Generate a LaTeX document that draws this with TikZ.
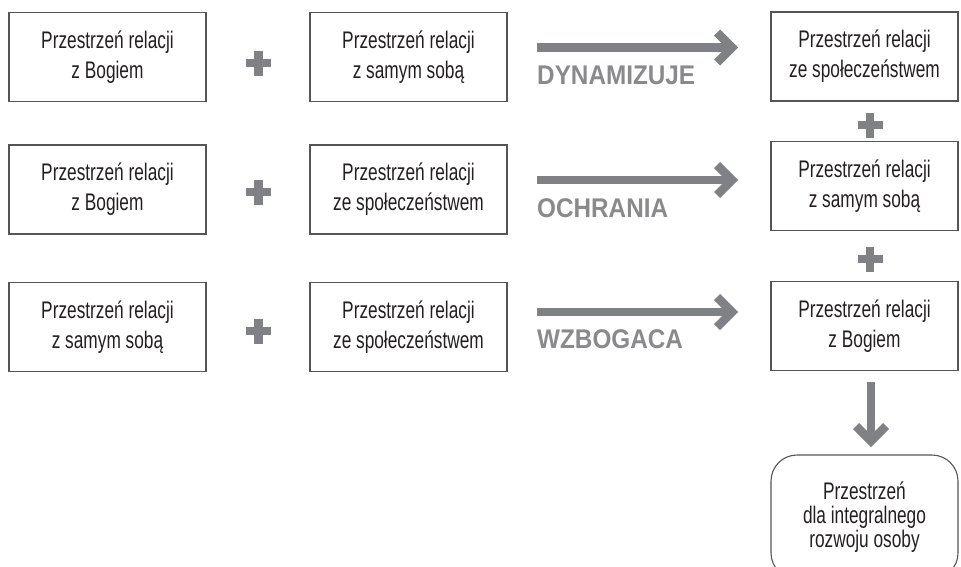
\documentclass[tikz,border=0pt]{standalone}
\usepackage{fontspec}
\setmainfont{Liberation Sans}[FakeStretch=0.72]
\newfontfamily\lblfont{Liberation Sans}[FakeStretch=0.9]
\definecolor{txt}{HTML}{231F20}
\definecolor{frame}{HTML}{555555}
\definecolor{arr}{HTML}{808184}
\definecolor{lbl}{HTML}{8A8A8D}
\begin{document}
\begin{tikzpicture}[x=1pt,y=-1pt,
  box/.style={draw=frame, line width=1.1pt, minimum width=197pt, minimum height=89pt,
    inner sep=0pt, align=center, text=txt, font=\fontsize{24}{30}\selectfont},
  rbox/.style={box, minimum width=187pt},
  endbox/.style={box, minimum width=187pt, minimum height=124pt, rounded corners=26pt,
    font=\fontsize{24}{24}\selectfont},
  verb/.style={anchor=west, text=lbl, inner sep=0pt,
    font=\lblfont\bfseries\fontsize{27}{27}\selectfont},
  shaft/.style={draw=arr, line width=8.5pt},
  chev/.style={draw=arr, line width=8.5pt, line join=miter},
  plussign/.pic={\fill[arr] (-12.5,-4.25) rectangle (12.5,4.25);
                 \fill[arr] (-4.25,-12.5) rectangle (4.25,12.5);}
]
\useasboundingbox (0,0) rectangle (961,566);

% row 1
\node[box] (a1) at (107.5,57) {Przestrzeń relacji\\z Bogiem};
\node[box] (b1) at (408.5,57) {Przestrzeń relacji\\z samym sobą};
\pic at (258.5,63) {plussign};
\coordinate (s1) at (537,47.5);
\coordinate (e1) at (727,47.5);
\coordinate (t1) at (732,47.5);
\draw[shaft] (s1) -- (e1);
\draw[chev] ([shift={(-15,-15)}]t1) -- (t1) -- ([shift={(-15,15)}]t1);
\node[verb] (v1) at (537,75) {DYNAMIZUJE};

% row 2
\node[box] (a2) at (107.5,189.5) {Przestrzeń relacji\\z Bogiem};
\node[box] (b2) at (408.5,189.5) {Przestrzeń relacji\\ze społeczeństwem};
\pic at (258.5,192) {plussign};
\coordinate (s2) at (537,180);
\coordinate (e2) at (727,180);
\coordinate (t2) at (732,180);
\draw[shaft] (s2) -- (e2);
\draw[chev] ([shift={(-15,-15)}]t2) -- (t2) -- ([shift={(-15,15)}]t2);
\node[verb] (v2) at (537,208) {OCHRANIA};

% row 3
\node[box] (a3) at (107.5,327) {Przestrzeń relacji\\z samym sobą};
\node[box] (b3) at (408.5,327) {Przestrzeń relacji\\ze społeczeństwem};
\pic at (258.5,331) {plussign};
\coordinate (s3) at (537,312);
\coordinate (e3) at (727,312);
\coordinate (t3) at (732,312);
\draw[shaft] (s3) -- (e3);
\draw[chev] ([shift={(-15,-15)}]t3) -- (t3) -- ([shift={(-15,15)}]t3);
\node[verb] (v3) at (537,339) {WZBOGACA};

% right column
\node[rbox] (r1) at (864.5,56.5) {Przestrzeń relacji\\ze społeczeństwem};
\pic at (870,125) {plussign};
\node[rbox] (r2) at (864.5,186) {Przestrzeń relacji\\z samym sobą};
\pic at (870,259) {plussign};
\node[rbox] (r3) at (864.5,326) {Przestrzeń relacji\\z Bogiem};

% down arrow
\node[endbox] (fin) at (864.5,517) {Przestrzeń\\dla integralnego\\rozwoju osoby};
\coordinate (ds) at (871,382);
\coordinate (de) at (871,436);
\coordinate (dt) at (871,441);
\draw[shaft] (ds) -- (de);
\draw[chev] ([shift={(-15,-15)}]dt) -- (dt) -- ([shift={(15,-15)}]dt);
\end{tikzpicture}
\end{document}
